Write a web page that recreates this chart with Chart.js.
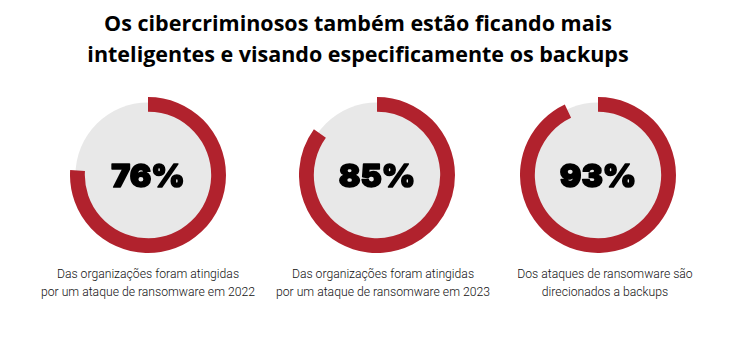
<!DOCTYPE html>
<html lang="pt">
<head>
    <meta charset="UTF-8">
    <title>Backups</title>
    <script src="https://cdn.jsdelivr.net/npm/chart.js"></script>
    <style>
        body {
            margin: 0;
            width: 753px;
            height: 343px;
            background: #ffffff;
            position: relative;
            overflow: hidden;
        }

        .title {
            position: absolute;
            left: 0;
            top: 7px;
            width: 716px;
            text-align: center;
            font-family: 'Open Sans', sans-serif;
            font-weight: 700;
            font-size: 21.5px;
            line-height: 31px;
            color: #000;
        }

        .ring {
            position: absolute;
            width: 156px;
            height: 156px;
        }

        .caption {
            position: absolute;
            width: 240px;
            text-align: center;
            font-family: 'Roboto', sans-serif;
            font-weight: 300;
            font-size: 12.2px;
            line-height: 18px;
            color: #111;
        }
    </style>
</head>
<body>
    <div class="title">Os cibercriminosos também estão ficando mais<br>inteligentes e visando especificamente os backups</div>

    <script>
        const percentages = [76, 85, 93];
        const captions = [
            ['Das organizações foram atingidas', 'por um ataque de ransomware em 2022'],
            ['Das organizações foram atingidas', 'por um ataque de ransomware em 2023'],
            ['Dos ataques de ransomware são', 'direcionados a backups']
        ];

        const centers = [[148, 175], [377, 175], [598, 175]];
        const captionCenters = [148, 383, 605];

        // gray disc behind the ring + big percentage in the middle
        const centerPlugin = {
            id: 'centerDisc',
            beforeDatasetsDraw(chart) {
                const arc = chart.getDatasetMeta(0).data[0];
                const ctx = chart.ctx;
                ctx.save();
                ctx.beginPath();
                ctx.arc(arc.x, arc.y, arc.outerRadius * 0.93, 0, Math.PI * 2);
                ctx.fillStyle = '#e8e8e8';
                ctx.fill();
                ctx.restore();
            },
            afterDatasetsDraw(chart) {
                const arc = chart.getDatasetMeta(0).data[0];
                const ctx = chart.ctx;
                const label = chart.data.datasets[0].data[0] + '%';
                ctx.save();
                ctx.font = '900 32px Inter, "DejaVu Sans", sans-serif';
                ctx.fillStyle = '#000';
                ctx.strokeStyle = '#000';
                ctx.lineWidth = 1.6;
                ctx.lineJoin = 'round';
                ctx.textAlign = 'center';
                ctx.textBaseline = 'middle';
                ctx.fillText(label, arc.x, arc.y + 2);
                ctx.strokeText(label, arc.x, arc.y + 2);
                ctx.restore();
            }
        };

        percentages.forEach(function (pct, i) {
            const box = document.createElement('div');
            box.className = 'ring';
            box.style.left = (centers[i][0] - 78) + 'px';
            box.style.top = (centers[i][1] - 78) + 'px';
            const canvas = document.createElement('canvas');
            canvas.width = 156;
            canvas.height = 156;
            box.appendChild(canvas);
            document.body.appendChild(box);

            new Chart(canvas.getContext('2d'), {
                type: 'doughnut',
                data: {
                    labels: ['atingidas', 'restante'],
                    datasets: [{
                        data: [pct, 100 - pct],
                        backgroundColor: ['#b1222d', 'rgba(0,0,0,0)'],
                        borderWidth: 0,
                        hoverOffset: 0
                    }]
                },
                options: {
                    responsive: false,
                    animation: false,
                    cutout: '81%',
                    layout: { padding: 0 },
                    plugins: {
                        legend: { display: false },
                        tooltip: { enabled: false }
                    }
                },
                plugins: [centerPlugin]
            });

            const cap = document.createElement('div');
            cap.className = 'caption';
            cap.style.left = (captionCenters[i] - 120) + 'px';
            cap.style.top = '265px';
            cap.innerHTML = captions[i].join('<br>');
            document.body.appendChild(cap);
        });
    </script>
</body>
</html>
